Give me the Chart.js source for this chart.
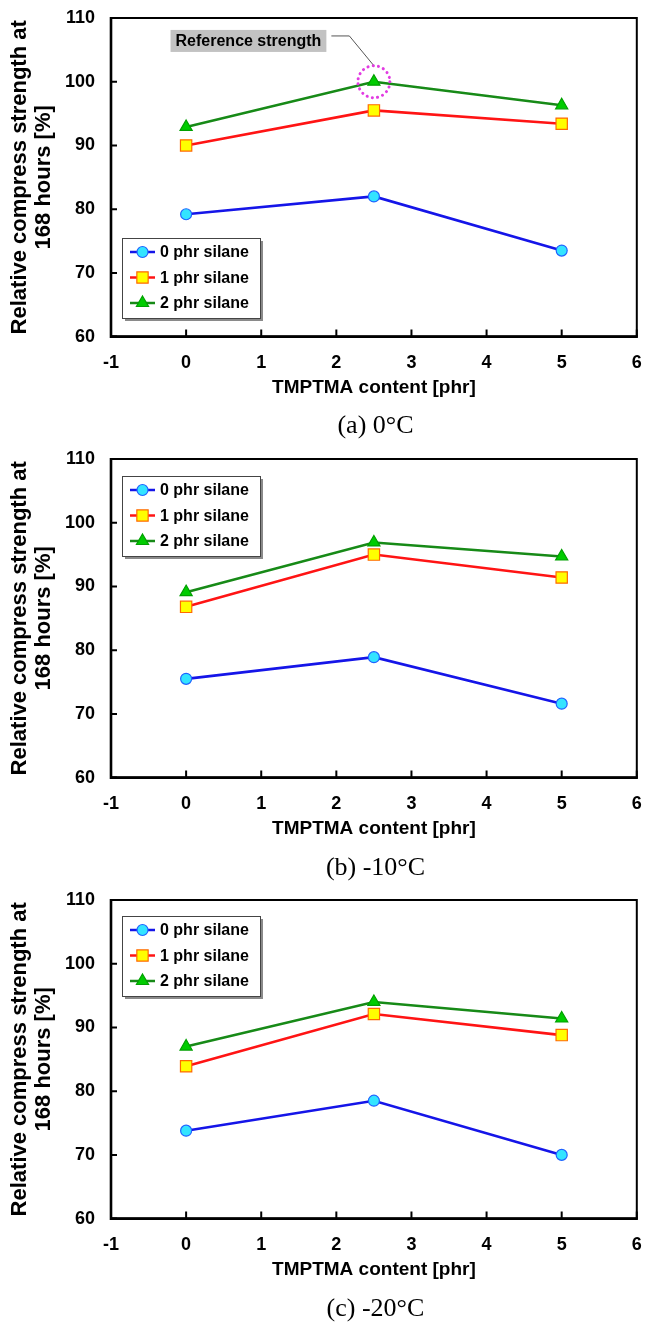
<!DOCTYPE html>
<html>
<head>
<meta charset="utf-8">
<script src="https://cdn.jsdelivr.net/npm/chart.js@4.4.1/dist/chart.umd.min.js"></script>
<style>
    html, body { margin: 0; padding: 0; background: #fff; }
    #page { position: relative; width: 646px; height: 1323px; overflow: hidden; }
    .panel { position: absolute; left: 0; width: 646px; height: 441px; }
    .panel canvas { position: absolute; left: 0; top: 0; }
    .caption {
        position: absolute; left: 0; width: 751px; text-align: center;
        font-family: "Liberation Serif", "Times New Roman", serif; font-size: 26px; line-height: 30px;
    }
</style>
</head>
<body>
<div id="page">
    <div class="panel" style="top:0px"><canvas id="chartA" width="646" height="441"></canvas><div class="caption" style="top:410px">(a) 0°C</div></div>
    <div class="panel" style="top:441px"><canvas id="chartB" width="646" height="441"></canvas><div class="caption" style="top:411px">(b) -10°C</div></div>
    <div class="panel" style="top:882px"><canvas id="chartC" width="646" height="441"></canvas><div class="caption" style="top:411px">(c) -20°C</div></div>
</div>
<script>
// TMPTMA content [phr]
var tmptma = [0, 2.5, 5];
var seriesNames = ['0 phr silane', '1 phr silane', '2 phr silane'];

// (a) 0°C
var a_silane0 = [79.2, 82.0, 73.5];
var a_silane1 = [90.0, 95.5, 93.4];
var a_silane2 = [92.9, 100.0, 96.3];

// (b) -10°C
var b_silane0 = [75.5, 78.9, 71.6];
var b_silane1 = [86.8, 95.0, 91.4];
var b_silane2 = [89.1, 96.9, 94.7];

// (c) -20°C
var c_silane0 = [73.8, 78.5, 70.0];
var c_silane1 = [83.9, 92.1, 88.8];
var c_silane2 = [87.0, 94.0, 91.4];

var xTicks = [-1, 0, 1, 2, 3, 4, 5, 6];
var yTicks = [60, 70, 80, 90, 100, 110];

var yTitle = ['Relative compress strength at', '168 hours [%]'];
var xTitle = 'TMPTMA content [phr]';
var refLabel = 'Reference strength';

var FONT = '"Liberation Sans", Arial, Helvetica, sans-serif';
Chart.defaults.font.family = FONT;
Chart.defaults.color = '#000';

var styles = [
    { line: '#1515e8', fill: '#33e4ff', border: '#1f63ff', shape: 'circle', radius: 5.5 },
    { line: '#ff1414', fill: '#ffff00', border: '#ff6a00', shape: 'rect', radius: 8 },
    { line: '#178a17', fill: '#00cc00', border: '#00a000', shape: 'triangle', radius: 7 }
];

function points(values)
{
    var out = [];
    for (var i = 0; i < tmptma.length; i++) {
        out.push({ x: tmptma[i], y: values[i] });
    }
    return out;
}

function marker(ctx, st, x, y)
{
    var r = st.radius;
    ctx.save();
    ctx.fillStyle = st.fill;
    ctx.strokeStyle = st.border;
    ctx.lineWidth = 1.2;
    ctx.beginPath();
    if (st.shape === 'circle') {
        ctx.arc(x, y, r, 0, Math.PI * 2);
    } else if (st.shape === 'rect') {
        var s = r * Math.SQRT1_2;
        ctx.rect(x - s, y - s, s * 2, s * 2);
    } else {
        ctx.moveTo(x, y - r);
        ctx.lineTo(x + r * 0.866, y + r * 0.5);
        ctx.lineTo(x - r * 0.866, y + r * 0.5);
        ctx.closePath();
    }
    ctx.fill();
    ctx.stroke();
    ctx.restore();
}

// frame, inward ticks, legend box and the reference note
var decor = {
    id: 'decor',
    afterDraw: function(chart, args, opts)
    {
        var ctx = chart.ctx;
        var area = chart.chartArea;
        var xs = chart.scales.x;
        var ys = chart.scales.y;

        ctx.save();
        ctx.strokeStyle = '#000';
        ctx.lineWidth = 2;
        ctx.strokeRect(area.left, area.top, area.right - area.left, area.bottom - area.top);
        ctx.lineWidth = 2.6;
        ctx.beginPath();
        ctx.moveTo(area.left, area.top - 1);
        ctx.lineTo(area.left, area.bottom);
        ctx.lineTo(area.right + 1, area.bottom);
        ctx.stroke();

        ctx.lineWidth = 2;
        ctx.beginPath();
        xTicks.forEach(function(v) {
            var px = xs.getPixelForValue(v);
            ctx.moveTo(px, area.bottom);
            ctx.lineTo(px, area.bottom - 7);
        });
        yTicks.forEach(function(v) {
            var py = ys.getPixelForValue(v);
            ctx.moveTo(area.left, py);
            ctx.lineTo(area.left + 6, py);
        });
        ctx.stroke();
        ctx.restore();

        // legend
        var lx = area.left + 11, lt = opts.legendTop, lw = 138, lh = 80;
        ctx.save();
        ctx.fillStyle = '#8a8a8a';
        ctx.fillRect(lx + 3, lt + 3, lw, lh);
        ctx.fillStyle = '#fff';
        ctx.fillRect(lx, lt, lw, lh);
        ctx.strokeStyle = '#444';
        ctx.lineWidth = 1;
        ctx.strokeRect(lx + 0.5, lt + 0.5, lw, lh);
        ctx.font = 'bold 16px ' + FONT;
        ctx.textBaseline = 'middle';
        ctx.textAlign = 'left';
        chart.data.datasets.forEach(function(ds, i) {
            var st = styles[i];
            var ry = lt + 14 + i * 25.5;
            ctx.strokeStyle = st.line;
            ctx.lineWidth = 2.5;
            ctx.beginPath();
            ctx.moveTo(lx + 8, ry);
            ctx.lineTo(lx + 33, ry);
            ctx.stroke();
            marker(ctx, st, lx + 20.5, ry);
            ctx.fillStyle = '#000';
            ctx.fillText(ds.label, lx + 38, ry + 1);
        });
        ctx.restore();

        if (opts.note) {
            var n = opts.note;
            var cx = xs.getPixelForValue(n.x);
            var cy = ys.getPixelForValue(n.y);
            var bx = xs.getPixelForValue(n.labelX);
            var by = ys.getPixelForValue(n.labelY);
            ctx.save();
            ctx.font = 'bold 16px ' + FONT;
            var tw = ctx.measureText(n.text).width;
            ctx.fillStyle = '#c2c2c2';
            ctx.fillRect(bx - tw / 2 - 5, by - 11, tw + 10, 22);
            ctx.fillStyle = '#000';
            ctx.textAlign = 'center';
            ctx.textBaseline = 'middle';
            ctx.fillText(n.text, bx, by + 1);

            ctx.strokeStyle = '#555';
            ctx.lineWidth = 1;
            ctx.beginPath();
            ctx.moveTo(bx + tw / 2 + 10, by - 5);
            ctx.lineTo(bx + tw / 2 + 28, by - 5);
            ctx.lineTo(cx, cy - 16);
            ctx.stroke();

            ctx.strokeStyle = '#e23ce2';
            ctx.lineWidth = 3;
            ctx.lineCap = 'round';
            ctx.setLineDash([0.1, 5.2]);
            ctx.beginPath();
            ctx.arc(cx, cy, 16, 0, Math.PI * 2);
            ctx.stroke();
            ctx.restore();
        }
    }
};

function makeChart(id, s0, s1, s2, legendTop, note)
{
    var values = [s0, s1, s2];
    var datasets = values.map(function(v, i) {
        var st = styles[i];
        return {
            label: seriesNames[i],
            data: points(v),
            borderColor: st.line,
            borderWidth: 2.6,
            pointStyle: st.shape,
            pointRadius: st.radius,
            pointBackgroundColor: st.fill,
            pointBorderColor: st.border,
            pointBorderWidth: 1.2,
            tension: 0
        };
    });

    return new Chart(document.getElementById(id).getContext('2d'), {
        type: 'line',
        data: { datasets: datasets },
        options: {
            responsive: false,
            animation: false,
            events: [],
            layout: { padding: { top: 18, right: 6, left: 0, bottom: 0 } },
            plugins: {
                legend: { display: false },
                tooltip: { enabled: false },
                decor: { legendTop: legendTop, note: note }
            },
            scales: {
                x: {
                    type: 'linear',
                    min: -1,
                    max: 6,
                    afterFit: function(scale) {
                        scale.height = 104.4;
                        scale.paddingLeft = 0;
                        scale.paddingRight = 0;
                    },
                    afterBuildTicks: function(scale) {
                        scale.ticks = xTicks.map(function(v) { return { value: v }; });
                    },
                    grid: { display: false, drawTicks: false },
                    border: { display: false },
                    ticks: { font: { size: 18, weight: 'bold' }, padding: 16, autoSkip: false, maxRotation: 0 },
                    title: { display: true, text: xTitle, font: { size: 19, weight: 'bold' }, padding: { top: 0, bottom: 42 } }
                },
                y: {
                    type: 'linear',
                    min: 60,
                    max: 110,
                    afterFit: function(scale) {
                        scale.width = 111;
                        scale.paddingTop = 0;
                        scale.paddingBottom = 0;
                    },
                    afterBuildTicks: function(scale) {
                        scale.ticks = yTicks.map(function(v) { return { value: v }; });
                    },
                    grid: { display: false, drawTicks: false },
                    border: { display: false },
                    ticks: { font: { size: 18, weight: 'bold' }, padding: 16 },
                    title: { display: true, text: yTitle, font: { size: 22, weight: 'bold', lineHeight: 1.1 }, padding: { top: 8, bottom: 0 } }
                }
            }
        },
        plugins: [decor]
    });
}

makeChart('chartA', a_silane0, a_silane1, a_silane2, 238,
    { x: 2.5, y: 100, labelX: 0.83, labelY: 106.4, text: refLabel });
makeChart('chartB', b_silane0, b_silane1, b_silane2, 35, null);
makeChart('chartC', c_silane0, c_silane1, c_silane2, 34, null);
</script>
</body>
</html>
